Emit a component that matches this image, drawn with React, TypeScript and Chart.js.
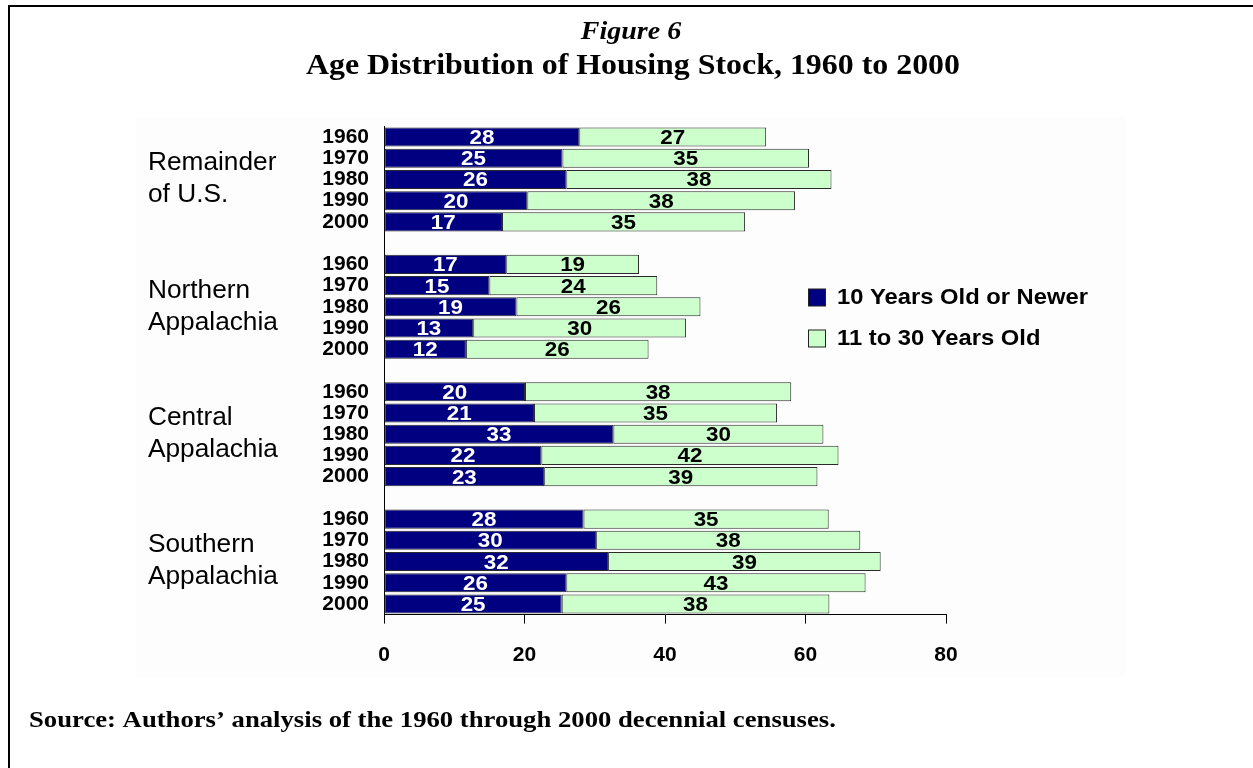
import React, { useEffect, useRef } from "react";
import { Chart, registerables } from "chart.js";

Chart.register(...registerables);

const years = ["1960", "1970", "1980", "1990", "2000"];
const groupLines = [
  ["Remainder", "of U.S."],
  ["Northern", "Appalachia"],
  ["Central", "Appalachia"],
  ["Southern", "Appalachia"],
];
const seriesNames = ["10 Years Old or Newer", "11 to 30 Years Old"];

const remainderNewer = [27.8, 25.4, 25.95, 20.4, 16.8];
const remainderOlder = [26.6, 35.1, 37.75, 38.1, 34.6];
const northernNewer = [17.4, 15.0, 18.85, 12.7, 11.66];
const northernOlder = [18.9, 23.9, 26.2, 30.3, 26.0];
const centralNewer = [20.07, 21.35, 32.65, 22.4, 22.8];
const centralOlder = [37.9, 34.6, 29.9, 42.3, 38.9];
const southernNewer = [28.4, 30.2, 31.9, 25.95, 25.3];
const southernOlder = [34.9, 37.6, 38.8, 42.6, 38.1];

const xTicks = [0, 20, 40, 60, 80];

const NAVY = "#000080";
const GREEN = "#CCFFCC";
const SANS = 'Arial, "Liberation Sans", sans-serif';
const SERIF = '"Times New Roman", "Liberation Serif", serif';

function joinGroups(arrs: number[][]): (number | null)[] {
  const out: (number | null)[] = [];
  arrs.forEach((a, i) => {
    if (i > 0) out.push(null);
    a.forEach((v) => out.push(v));
  });
  return out;
}

const labels: string[] = [];
groupLines.forEach((_, i) => {
  if (i > 0) labels.push("");
  years.forEach((y) => labels.push(y));
});

const newerData = joinGroups([remainderNewer, northernNewer, centralNewer, southernNewer]);
const olderData = joinGroups([remainderOlder, northernOlder, centralOlder, southernOlder]);

function drawText(
  ctx: CanvasRenderingContext2D,
  text: string,
  x: number,
  y: number,
  font: string,
  color: string,
  align: "left" | "center" | "right",
  sx: number
) {
  ctx.save();
  ctx.font = font;
  ctx.fillStyle = color;
  ctx.textBaseline = "middle";
  ctx.textAlign = "left";
  const w = ctx.measureText(text).width * sx;
  const left = align === "center" ? x - w / 2 : align === "right" ? x - w : x;
  ctx.translate(left, y);
  ctx.scale(sx, 1);
  ctx.fillText(text, 0, 0);
  ctx.restore();
}

const decorPlugin = {
  id: "decor",
  beforeDraw(chart: any) {
    const ctx = chart.ctx as CanvasRenderingContext2D;
    ctx.save();
    ctx.fillStyle = "#ffffff";
    ctx.fillRect(0, 0, chart.width, chart.height);
    ctx.fillStyle = "#fdfdfd";
    ctx.fillRect(136, 117, 990, 560);
    ctx.fillStyle = "#000000";
    ctx.fillRect(8, 5, 2, chart.height - 5);
    ctx.fillRect(8, 5, chart.width - 8, 2);
    ctx.restore();
  },
  afterDraw(chart: any) {
    const ctx = chart.ctx as CanvasRenderingContext2D;
    drawText(ctx, "Figure 6", 631, 33, `italic bold 25px ${SERIF}`, "#000", "center", 1.12);
    drawText(
      ctx,
      "Age Distribution of Housing Stock, 1960 to 2000",
      633,
      67,
      `bold 29px ${SERIF}`,
      "#000",
      "center",
      1.1
    );
    drawText(
      ctx,
      "Source: Authors\u2019 analysis of the 1960 through 2000 decennial censuses.",
      29,
      721,
      `bold 23px ${SERIF}`,
      "#000",
      "left",
      1.16
    );
    const yScale = chart.scales.y;
    groupLines.forEach((lines, gi) => {
      const idx = gi * 6 + 2;
      const cy = yScale.getPixelForValue(idx);
      drawText(ctx, lines[0], 148, cy - 16, `25px ${SANS}`, "#000", "left", 1.05);
      drawText(ctx, lines[1], 148, cy + 16, `25px ${SANS}`, "#000", "left", 1.05);
    });
    const colors = [NAVY, GREEN];
    const rows = [297.5, 338.5];
    seriesNames.forEach((name, i) => {
      ctx.save();
      ctx.fillStyle = colors[i];
      ctx.fillRect(808.5, rows[i] - 8.5, 17, 17);
      ctx.strokeStyle = "#222";
      ctx.lineWidth = 1;
      ctx.strokeRect(808.5, rows[i] - 8.5, 17, 17);
      ctx.restore();
      drawText(ctx, name, 837, rows[i], `bold 22px ${SANS}`, "#000", "left", 1.08);
    });
  },
  afterDatasetsDraw(chart: any) {
    const ctx = chart.ctx as CanvasRenderingContext2D;
    chart.data.datasets.forEach((ds: any, di: number) => {
      const meta = chart.getDatasetMeta(di);
      meta.data.forEach((el: any, i: number) => {
        const v = ds.data[i];
        if (v === null || v === undefined) return;
        const cx = (el.x + el.base) / 2;
        drawText(
          ctx,
          String(Math.round(v)),
          cx,
          el.y + 1.5,
          `bold 20px ${SANS}`,
          di === 0 ? "#ffffff" : "#000000",
          "center",
          1.12
        );
      });
    });
  },
};

export default function App() {
  const ref = useRef<HTMLCanvasElement | null>(null);
  useEffect(() => {
    if (!ref.current) return;
    Chart.defaults.font.family = SANS;
    const chart = new Chart(ref.current, {
      type: "bar",
      data: {
        labels,
        datasets: [
          {
            label: seriesNames[0],
            data: newerData,
            backgroundColor: NAVY,
            borderColor: "#2a2a2a",
            borderWidth: 1,
            borderSkipped: false,
          },
          {
            label: seriesNames[1],
            data: olderData,
            backgroundColor: GREEN,
            borderColor: "#2a2a2a",
            borderWidth: 1,
            borderSkipped: false,
          },
        ] as any,
      },
      options: {
        indexAxis: "y",
        responsive: false,
        animation: false,
        maintainAspectRatio: false,
        datasets: { bar: { barPercentage: 0.9, categoryPercentage: 1.0 } } as any,
        layout: { padding: { left: 0, top: 126.4, right: 307, bottom: 0 } },
        plugins: {
          legend: { display: false },
          tooltip: { enabled: false },
          title: { display: false },
        },
        scales: {
          x: {
            stacked: true,
            min: 0,
            max: 80,
            afterFit: (s: any) => {
              s.height = 768 - 614.6;
            },
            afterBuildTicks: (s: any) => {
              s.ticks = xTicks.map((v) => ({ value: v }));
            },
            ticks: {
              color: "#000",
              font: { size: 21, weight: "bold" },
              padding: 19,
            },
            grid: {
              drawOnChartArea: false,
              drawTicks: true,
              tickLength: 9,
              color: "#000",
            },
            border: { display: true, color: "#000", width: 1 },
          },
          y: {
            stacked: true,
            afterFit: (s: any) => {
              s.width = 384;
            },
            ticks: {
              color: "#000",
              font: { size: 21, weight: "bold" },
              padding: 15,
              autoSkip: false,
            },
            grid: { display: false, drawTicks: false },
            border: { display: true, color: "#000", width: 1 },
          },
        },
      },
      plugins: [decorPlugin],
    });
    return () => chart.destroy();
  }, []);
  return (
    <div style={{ position: "absolute", left: 0, top: 0, width: 1253, height: 768 }}>
      <canvas ref={ref} width={1253} height={768} style={{ display: "block" }} />
    </div>
  );
}
